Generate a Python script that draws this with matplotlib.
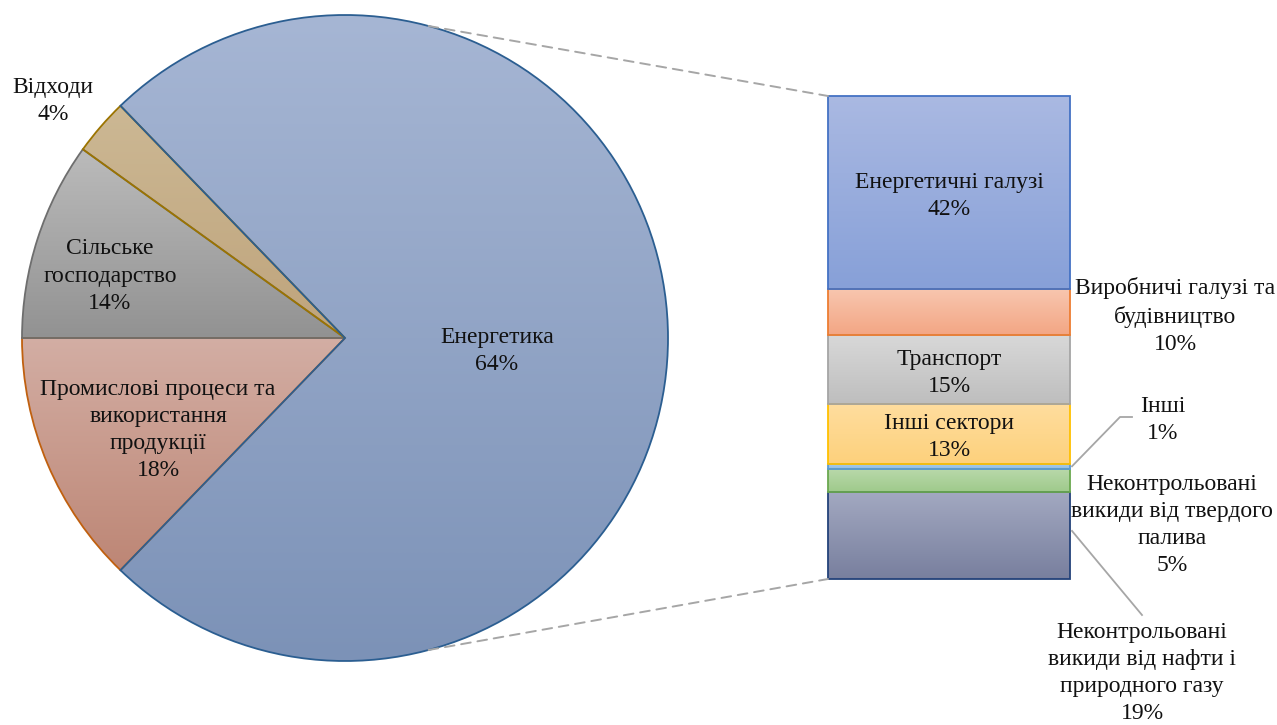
import numpy as np
import matplotlib
matplotlib.use("Agg")
import matplotlib.pyplot as plt
from matplotlib.colors import to_rgba
from matplotlib.patches import ConnectionPatch

plt.rcParams['font.family'] = ['Liberation Serif', 'DejaVu Serif']

# Main pie: sectors (energy wedge = total of its breakdown below)
pie_labels = ["Енергетика", "Відходи", "Сільське\nгосподарство",
              "Промислові процеси та\nвикористання\nпродукції"]
pie_other_values = [4, 14, 18]
energy_label_pct = 64

# Energy breakdown (stacked bar, listed bottom to top)
bar_labels = ["Неконтрольовані\nвикиди від нафти і\nприродного газу",
              "Неконтрольовані\nвикиди від твердого\nпалива",
              "Інші",
              "Інші сектори",
              "Транспорт",
              "Виробничі галузі та\nбудівництво",
              "Енергетичні галузі"]
bar_values = [19, 5, 1, 13, 15, 10, 42]

W, H = 1277, 725
fig = plt.figure(figsize=(W / 100, H / 100), dpi=100)
fig.patch.set_facecolor('white')


def fig_rect(x0, y0, x1, y1):
    # pixel box (top-left origin) -> figure fraction rect
    return [x0 / W, 1 - y1 / H, (x1 - x0) / W, (y1 - y0) / H]


def gradient_fill(ax, patch, c_top, c_bot, z_img=1, z_edge=2):
    bb = patch.get_path().get_extents(patch.get_patch_transform())
    n = 256
    t = np.linspace(0, 1, n)[:, None]
    top = np.array(to_rgba(c_top))
    bot = np.array(to_rgba(c_bot))
    img = (bot * (1 - t) + top * t)[:, None, :]
    im = ax.imshow(img, extent=[bb.x0, bb.x1, bb.y0, bb.y1], origin='lower',
                   aspect='auto', interpolation='bilinear', zorder=z_img)
    im.set_clip_path(patch)
    patch.set_facecolor('none')
    patch.set_zorder(z_edge)


# ---- pie ----
ax_pie = fig.add_axes(fig_rect(22, 15, 668, 661))
energy_total = sum(bar_values)
pie_values = [energy_total] + pie_other_values
energy_deg = 360 * energy_total / sum(pie_values)
wedges, _ = ax_pie.pie(pie_values, radius=1, startangle=-energy_deg / 2,
                       counterclock=True)
pie_style = [  # top colour, bottom colour, edge colour
    ("#A6B6D4", "#7C92B7", "#2B5E91"),
    ("#CCB894", "#BFA47C", "#9C7400"),
    ("#BBBBBB", "#929292", "#6E6E6E"),
    ("#D3AEA4", "#BD8675", "#C0600F"),
]
edge_order = [6, 5, 4, 3]
for w, (ct, cb, ec), ze in zip(wedges, pie_style, edge_order):
    w.set_edgecolor(ec)
    w.set_linewidth(1.3)
    gradient_fill(ax_pie, w, ct, cb, z_img=1, z_edge=ze)
ax_pie.set_xlim(-1, 1)
ax_pie.set_ylim(-1, 1)
ax_pie.set_aspect('equal')
ax_pie.axis('off')
for w in wedges:
    w.set_clip_on(False)

# ---- stacked bar ----
ax_bar = fig.add_axes(fig_rect(828, 96, 1070, 579))
bar_style = [
    ("#A3A9C1", "#787F9E", "#23427A"),
    ("#B8D8AA", "#9FCA8B", "#6AA84F"),
    ("#A9CCEA", "#8DBBE3", "#5B9BD5"),
    ("#FFDD9E", "#FDD17C", "#FFC000"),
    ("#D8D8D8", "#BEBEBE", "#A5A5A5"),
    ("#F8C6AF", "#F3A684", "#ED7D31"),
    ("#AAB9E2", "#87A0D8", "#4472C4"),
]
bottoms = np.concatenate([[0], np.cumsum(bar_values)[:-1]])
bars = ax_bar.bar(0, bar_values, bottom=bottoms, width=1.0)
for b, (ct, cb, ec) in zip(bars, bar_style):
    b.set_edgecolor(ec)
    b.set_linewidth(1.3)
    gradient_fill(ax_bar, b, ct, cb)
    b.set_clip_on(False)
ax_bar.set_xlim(-0.5, 0.5)
ax_bar.set_ylim(0, energy_total)
ax_bar.axis('off')

fs = 17
txt = dict(fontsize=fs, ha='center', va='center', linespacing=1.38, color='#111111')

# ---- overlay for labels and connector lines ----
ax_o = fig.add_axes([0, 0, 1, 1], zorder=5)
ax_o.set_xlim(0, W)
ax_o.set_ylim(H, 0)
ax_o.axis('off')
ax_o.patch.set_alpha(0)


def bar_px(x, y):
    # bar data coordinates -> overlay pixel coordinates
    return ax_o.transData.inverted().transform(ax_bar.transData.transform((x, y)))


# labels inside the bar segments
for i in (3, 4, 6):
    cx, cy = bar_px(0, bottoms[i] + bar_values[i] / 2)
    ax_o.text(cx, cy + 3, f"{bar_labels[i]}\n{bar_values[i]}%", **txt)

ax_o.text(497, 351, f"{pie_labels[0]}\n{energy_label_pct}%", **txt)
ax_o.text(53, 101, f"{pie_labels[1]}\n{pie_other_values[0]}%", **txt)
ax_o.text(110, 276, f"{pie_labels[2]}\n{pie_other_values[1]}%", **txt)
ax_o.text(158, 430, f"{pie_labels[3]}\n{pie_other_values[2]}%", **txt)

ax_o.text(1175, 316, f"{bar_labels[5]}\n{bar_values[5]}%", **txt)
ax_o.text(1163, 420, f"{bar_labels[2]}\n{bar_values[2]}%", **txt)
ax_o.text(1172, 525, f"{bar_labels[1]}\n{bar_values[1]}%", **txt)
ax_o.text(1142, 673, f"{bar_labels[0]}\n{bar_values[0]}%", **txt)

# leader lines for the small segments
lead = dict(color='#A6A6A6', lw=1.3, zorder=6)
p = bar_px(0.5, bottoms[2] + bar_values[2] / 2)
ax_o.plot([p[0] + 2, 1120, 1132], [p[1], 417, 417], **lead)
p = bar_px(0.5, bottoms[0] + bar_values[0] * 0.55)
ax_o.plot([p[0] + 2, 1142], [p[1], 615], **lead)

# dashed series lines from the pie to the bar
for ang, ybar in ((75.0, energy_total), (-75.0, 0)):
    a = np.deg2rad(ang)
    con = ConnectionPatch(xyA=(np.cos(a), np.sin(a)), coordsA=ax_pie.transData,
                          xyB=(-0.5, ybar), coordsB=ax_bar.transData,
                          color='#A6A6A6', lw=1.4, linestyle=(0, (5, 3.5)))
    fig.add_artist(con)

fig.savefig("out.png", dpi=100, facecolor='white')
